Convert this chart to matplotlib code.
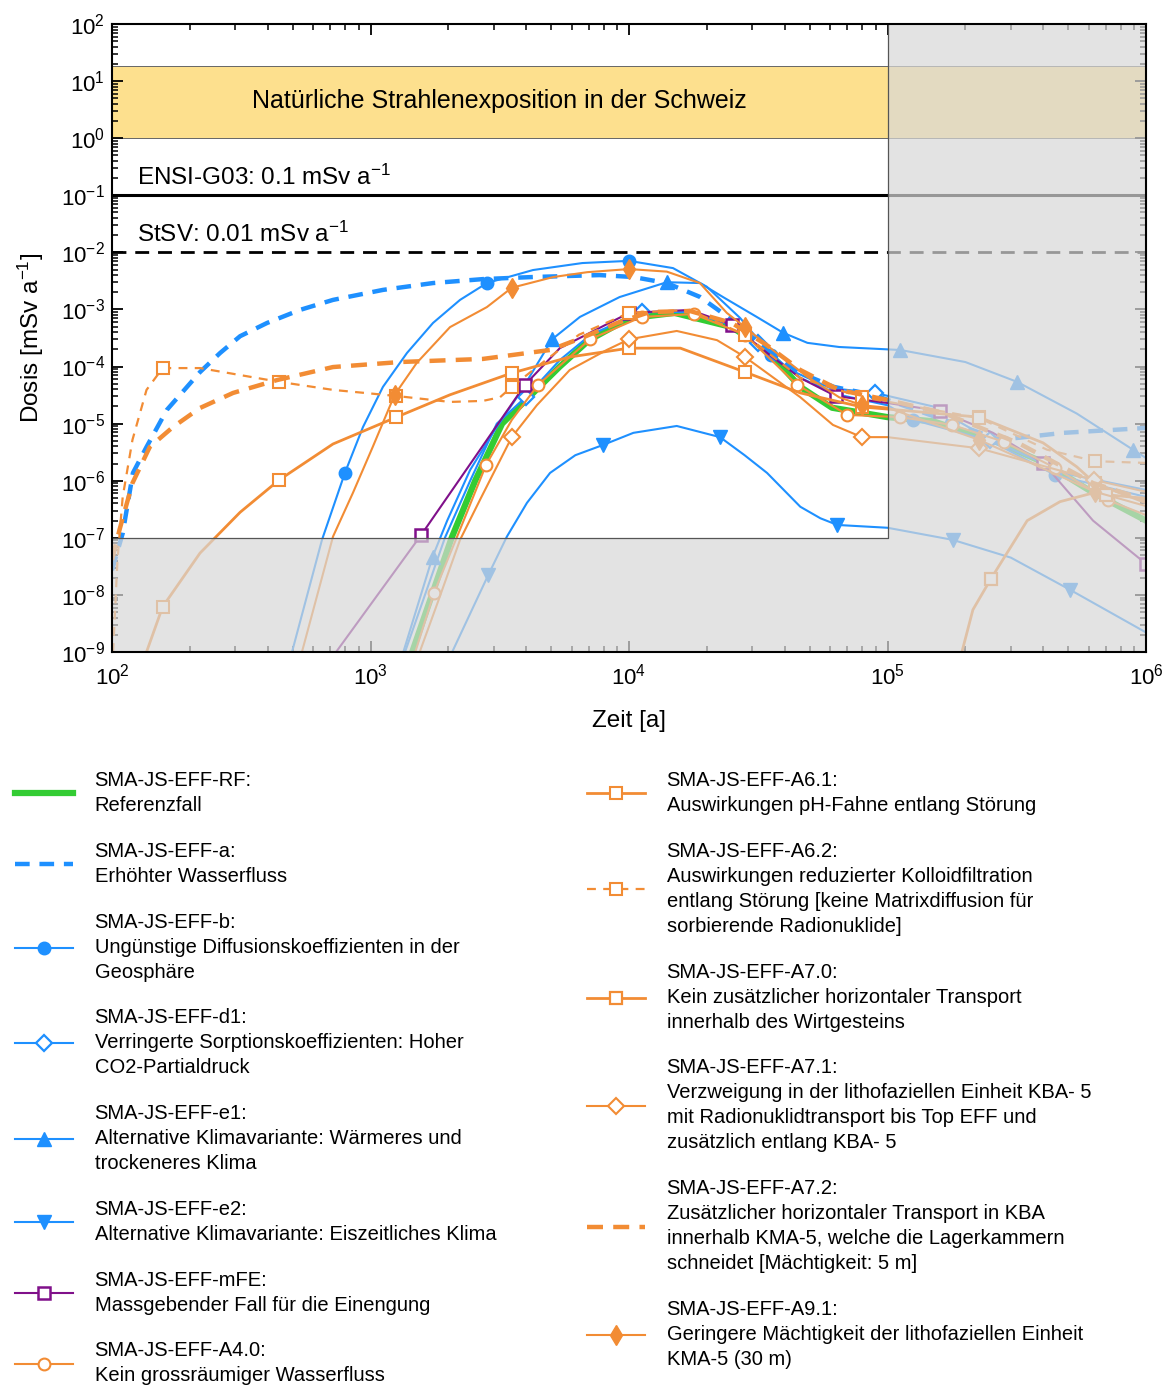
import matplotlib
matplotlib.use('Agg')
import matplotlib.pyplot as plt
from matplotlib.patches import Rectangle
from matplotlib.ticker import LogLocator, NullFormatter
import numpy as np

plt.rcParams['font.family'] = ['Liberation Sans', 'DejaVu Sans']
plt.rcParams['mathtext.fontset'] = 'custom'
plt.rcParams['mathtext.rm'] = 'Liberation Sans'
plt.rcParams['mathtext.it'] = 'Liberation Sans:italic'
plt.rcParams['mathtext.default'] = 'regular'

BLUE = '#1e90ff'
ORANGE = '#f28c34'
PURPLE = '#80108a'
GREEN = '#33cc33'

# ---- data (time [a], dose [mSv/a]) ----
t_rf = [1.45e3, 2.06e3, 2.54e3, 3.23e3, 5.4e3, 7.0e3, 1.0e4, 1.5e4, 2.5e4, 3.4e4, 4.6e4, 6.1e4,
        1.0e5, 1.5e5, 2.7e5, 4.1e5, 6.2e5, 1.0e6]
d_rf = [1e-9, 1e-7, 1e-6, 1e-5, 1.0e-4, 2.9e-4, 7.0e-4, 8.7e-4, 4.9e-4, 1.95e-4, 4.4e-5, 1.9e-5,
        1.3e-5, 1.1e-5, 4.6e-6, 2.0e-6, 6.3e-7, 2.0e-7]

t_a = [100, 110, 120.5, 136, 163, 219, 262, 313, 398, 533, 716, 1117, 1745, 2.72e3, 4.25e3, 7.7e3,
       1.04e4, 1.4e4, 1.88e4, 2.5e4, 3.4e4, 4.6e4, 6.2e4, 8.8e4, 1.46e5, 2.72e5, 4.8e5, 1.0e6]
d_a = [2.7e-8, 1.2e-7, 1.37e-6, 3.9e-6, 1.74e-5, 8.0e-5, 1.73e-4, 3.4e-4, 5.8e-4, 9.8e-4, 1.47e-3,
       2.2e-3, 2.9e-3, 3.4e-3, 3.7e-3, 4.0e-3, 3.7e-3, 2.9e-3, 1.66e-3, 6.6e-4, 1.95e-4, 7.7e-5,
       4.4e-5, 3.2e-5, 1.42e-5, 5.2e-6, 6.9e-6, 8.4e-6]

t_b = [497, 649, 796, 935, 1117, 1384, 1745, 2.22e3, 2.82e3, 4.25e3, 6.6e3, 1.0e4, 1.48e4, 2.0e4,
       2.69e4, 3.54e4, 4.6e4, 6.5e4, 1.0e5, 1.26e5, 2.5e5, 4.45e5, 1.0e6]
d_b = [1e-9, 9.2e-8, 1.37e-6, 8.7e-6, 4.4e-5, 1.73e-4, 5.8e-4, 1.47e-3, 2.9e-3, 4.9e-3, 6.5e-3,
       7.1e-3, 5.3e-3, 2.5e-3, 7.1e-4, 1.6e-4, 6.3e-5, 3.2e-5, 2.1e-5, 1.16e-5, 5.0e-6, 1.26e-6, 5.2e-7]
m_b = [2, 8, 11, 15, 19, 21]

t_d1 = [1.36e3, 1.94e3, 2.43e3, 3.08e3, 4.0e3, 5.4e3, 7.1e3, 1.12e4, 1.72e4, 2.46e4, 3.16e4, 4.2e4,
        6.0e4, 8.95e4, 1.5e5, 2.5e5, 5.0e5, 1.0e6]
d_d1 = [1e-9, 1e-7, 1e-6, 1e-5, 2.95e-5, 1.3e-4, 3.6e-4, 9.0e-4, 9.0e-4, 5.4e-4, 2.6e-4, 8.7e-5,
        4.2e-5, 3.45e-5, 2.0e-5, 5.2e-6, 1.3e-6, 6.9e-7]
m_d1 = [4, 7, 10, 13, 15]

t_e1 = [1.34e3, 1.74e3, 1.98e3, 2.43e3, 3.03e3, 3.79e3, 5.04e3, 6.46e3, 9.2e3, 1.4e4, 1.88e4, 2.31e4,
        3.12e4, 3.95e4, 4.9e4, 6.5e4, 1.12e5, 2.0e5, 3.17e5, 5.4e5, 8.9e5, 1.0e6]
d_e1 = [1e-9, 4.7e-8, 2.0e-7, 1.55e-6, 7.8e-6, 3.5e-5, 3.0e-4, 7.4e-4, 1.65e-3, 3.0e-3, 2.9e-3,
        1.65e-3, 7.4e-4, 3.9e-4, 2.6e-4, 2.2e-4, 1.95e-4, 1.2e-4, 5.4e-5, 1.5e-5, 3.5e-6, 2.5e-6]
m_e1 = [1, 6, 9, 13, 16, 18, 20]

t_e2 = [2.07e3, 2.85e3, 3.37e3, 4.03e3, 4.95e3, 6.2e3, 7.9e3, 1.04e4, 1.53e4, 2.25e4, 2.8e4, 3.42e4,
        4.6e4, 5.5e4, 6.4e4, 1.0e5, 1.79e5, 3.0e5, 5.1e5, 1.0e6]
d_e2 = [1e-9, 2.2e-8, 1.05e-7, 4.1e-7, 1.37e-6, 2.8e-6, 4.2e-6, 6.9e-6, 9.1e-6, 5.8e-6, 2.8e-6,
        1.37e-6, 3.5e-7, 2.2e-7, 1.68e-7, 1.5e-7, 9.2e-8, 4.5e-8, 1.22e-8, 2.2e-9]
m_e2 = [1, 6, 9, 14, 16, 18]

t_mfe = [736, 1.57e3, 3.96e3, 5.4e3, 1.0e4, 1.72e4, 2.5e4, 3.5e4, 4.6e4, 6.3e4, 1.0e5, 1.6e5, 2.56e5,
         4.0e5, 6.24e5, 1.0e6]
d_mfe = [1e-9, 1.12e-7, 4.8e-5, 2.1e-4, 8.7e-4, 9.8e-4, 5.4e-4, 1.6e-4, 6.3e-5, 3.05e-5, 2.3e-5,
         1.67e-5, 6.9e-6, 2.05e-6, 2.0e-7, 3.5e-8]
m_mfe = [1, 2, 4, 6, 9, 11, 13, 15]

t_a40 = [1.49e3, 1.76e3, 2.22e3, 2.8e3, 3.52e3, 4.45e3, 7.06e3, 1.12e4, 1.78e4, 2.81e4, 4.47e4,
         7.0e4, 1.12e5, 1.78e5, 2.82e5, 4.45e5, 7.1e5, 1.0e6]
d_a40 = [1e-9, 1.08e-8, 1.4e-7, 1.9e-6, 1.16e-5, 4.8e-5, 3.0e-4, 7.4e-4, 8.3e-4, 3.6e-4, 4.8e-5,
         1.42e-5, 1.3e-5, 9.5e-6, 4.8e-6, 1.68e-6, 4.6e-7, 2.5e-7]
m_a40 = [1, 3, 5, 6, 7, 8, 9, 10, 11, 12, 13, 14, 15, 16]

t_a61 = [136, 157, 219, 313, 443, 716, 1.26e3, 2.03e3, 3.52e3, 5.9e3, 1.0e4, 1.58e4, 2.81e4, 4.6e4,
         7.96e4, 1.0e5, 2.26e5, 4.0e5, 5.4e5, 6.35e5, 1.0e6]
d_a61 = [1e-9, 6.2e-9, 5.4e-8, 2.8e-7, 1.03e-6, 4.4e-6, 1.3e-5, 3.2e-5, 7.7e-5, 1.47e-4, 2.1e-4,
         2.1e-4, 8.0e-5, 3.45e-5, 1.96e-5, 1.8e-5, 1.3e-5, 4.6e-6, 1.75e-6, 9e-7, 4.1e-7]
m_a61 = [1, 4, 6, 8, 10, 12, 14, 16, 19]

t_a62 = [101, 105, 110, 120, 136, 157, 219, 443, 716, 1.26e3, 2.03e3, 2.72e3, 3.17e3, 3.52e3, 4.5e3,
         6.4e3, 1.0e4, 1.72e4, 2.81e4, 4.6e4, 7.96e4, 2.26e5, 4.14e5, 6.35e5, 1.0e6]
d_a62 = [1e-9, 4.1e-8, 5.2e-7, 5.2e-6, 3.9e-5, 9.4e-5, 9.4e-5, 5.4e-5, 3.9e-5, 3.05e-5, 2.4e-5,
         2.5e-5, 2.9e-5, 4.4e-5, 1.06e-4, 3.6e-4, 8.7e-4, 9.8e-4, 3.6e-4, 6.3e-5, 2.9e-5, 1.26e-5,
         3.5e-6, 2.2e-6, 2.05e-6]
m_a62 = [5, 7, 9, 13, 16, 18, 20, 21, 23]

t_a70 = [1.94e5, 2.14e5, 2.51e5, 3.47e5, 4.65e5, 6.24e5, 7.0e5, 1.0e6]
d_a70 = [1e-9, 5.5e-9, 1.9e-8, 2.0e-7, 4.3e-7, 6.1e-7, 5.7e-7, 4.9e-7]
m_a70 = [2, 6]

t_a71 = [1.55e3, 1.81e3, 2.22e3, 2.65e3, 3.52e3, 4.4e3, 5.9e3, 8.2e3, 1.0e4, 1.53e4, 2.19e4, 2.81e4,
         3.42e4, 4.6e4, 6.15e4, 7.96e4, 1.0e5, 2.26e5, 6.3e5, 1.0e6]
d_a71 = [1e-9, 6.9e-9, 9.2e-8, 4.6e-7, 5.8e-6, 2.1e-5, 8.7e-5, 1.95e-4, 3.0e-4, 4.2e-4, 2.9e-4,
         1.47e-4, 7.7e-5, 2.9e-5, 9.5e-6, 5.8e-6, 5.8e-6, 3.7e-6, 1.03e-6, 6.4e-7]
m_a71 = [4, 8, 11, 15, 17, 18]

t_a72 = [100, 107, 120, 140, 172, 219, 294, 435, 716, 1.3e3, 2.72e3, 4.95e3, 6.6e3, 9.0e3, 1.2e4,
         1.72e4, 2.5e4, 3.4e4, 4.6e4, 6.5e4, 1.0e5, 1.64e5, 3.2e5, 6.24e5, 1.0e6]
d_a72 = [4.1e-8, 1.4e-7, 9.1e-7, 3.9e-6, 8.7e-6, 1.88e-5, 3.45e-5, 5.8e-5, 9.8e-5, 1.2e-4, 1.36e-4,
         1.95e-4, 3.2e-4, 5.8e-4, 9.0e-4, 9.4e-4, 5.8e-4, 2.4e-4, 8.7e-5, 3.9e-5, 2.6e-5, 1.55e-5,
         4.6e-6, 9.1e-7, 4.6e-7]

t_a91 = [543, 716, 856, 1.02e3, 1.24e3, 1.51e3, 2.03e3, 2.82e3, 3.52e3, 5.1e3, 6.9e3, 1.0e4, 1.4e4,
         1.88e4, 2.39e4, 2.81e4, 3.6e4, 4.9e4, 6.5e4, 7.96e4, 1.0e5, 2.26e5, 6.35e5, 1.0e6]
d_a91 = [1e-9, 1.05e-7, 6.2e-7, 3.9e-6, 3.2e-5, 1.16e-4, 4.9e-4, 1.1e-3, 2.4e-3, 3.7e-3, 4.5e-3,
         5.1e-3, 4.6e-3, 2.9e-3, 8.7e-4, 4.9e-4, 1.95e-4, 6.6e-5, 2.9e-5, 2.1e-5, 1.9e-5, 5.2e-6,
         6.4e-7, 3.6e-7]
m_a91 = [4, 8, 11, 15, 19, 21, 22]

labels_left = [
    'SMA-JS-EFF-RF:\nReferenzfall',
    'SMA-JS-EFF-a:\nErhöhter Wasserfluss',
    'SMA-JS-EFF-b:\nUngünstige Diffusionskoeffizienten in der\nGeosphäre',
    'SMA-JS-EFF-d1:\nVerringerte Sorptionskoeffizienten: Hoher\nCO2-Partialdruck',
    'SMA-JS-EFF-e1:\nAlternative Klimavariante: Wärmeres und\ntrockeneres Klima',
    'SMA-JS-EFF-e2:\nAlternative Klimavariante: Eiszeitliches Klima',
    'SMA-JS-EFF-mFE:\nMassgebender Fall für die Einengung',
    'SMA-JS-EFF-A4.0:\nKein grossräumiger Wasserfluss',
]
labels_right = [
    'SMA-JS-EFF-A6.1:\nAuswirkungen pH-Fahne entlang Störung',
    'SMA-JS-EFF-A6.2:\nAuswirkungen reduzierter Kolloidfiltration\nentlang Störung [keine Matrixdiffusion für\nsorbierende Radionuklide]',
    'SMA-JS-EFF-A7.0:\nKein zusätzlicher horizontaler Transport\ninnerhalb des Wirtgesteins',
    'SMA-JS-EFF-A7.1:\nVerzweigung in der lithofaziellen Einheit KBA- 5\nmit Radionuklidtransport bis Top EFF und\nzusätzlich entlang KBA- 5',
    'SMA-JS-EFF-A7.2:\nZusätzlicher horizontaler Transport in KBA\ninnerhalb KMA-5, welche die Lagerkammern\nschneidet [Mächtigkeit: 5 m]',
    'SMA-JS-EFF-A9.1:\nGeringere Mächtigkeit der lithofaziellen Einheit\nKMA-5 (30 m)',
]

fig = plt.figure(figsize=(11.73, 13.85), dpi=100)
ax = fig.add_axes([112/1173, 1-652/1385, (1146-112)/1173, (652-24)/1385])
ax.set_xscale('log')
ax.set_yscale('log')
ax.set_xlim(1e2, 1e6)
ax.set_ylim(1e-9, 1e2)

# reference levels
ax.axhspan(1, 18.4, fc='#fde08e', ec='#666666', lw=0.7, zorder=1)
ax.axhline(0.1, color='k', lw=2.2, zorder=1.5)
ax.axhline(0.01, color='k', lw=2.0, ls=(0, (5, 3.2)), zorder=1.5)
ax.text(3.14e3, 4.4, 'Natürliche Strahlenexposition in der Schweiz', ha='center', va='center', fontsize=18)
ax.text(125, 0.21, 'ENSI-G03: 0.1 mSv a$^{-1}$', ha='left', va='center', fontsize=17.5)
ax.text(125, 0.021, 'StSV: 0.01 mSv a$^{-1}$', ha='left', va='center', fontsize=17.5)

sty = dict(lw=1.5, ms=8.5, mew=1.5, zorder=2)
h = []
h.append(ax.plot(t_rf, d_rf, color=GREEN, lw=4.5, zorder=2)[0])
h.append(ax.plot(t_a, d_a, color=BLUE, lw=3.2, ls=(0, (3.3, 2.2)), zorder=2)[0])
h.append(ax.plot(t_b, d_b, color=BLUE, marker='o', markevery=m_b, mfc=BLUE, mec=BLUE, **sty)[0])
h.append(ax.plot(t_d1, d_d1, color=BLUE, marker='D', markevery=m_d1, mfc='white', mec=BLUE,
                 lw=1.5, ms=8, mew=1.6, zorder=2)[0])
h.append(ax.plot(t_e1, d_e1, color=BLUE, marker='^', markevery=m_e1, mfc=BLUE, mec=BLUE,
                 lw=1.5, ms=9.5, zorder=2)[0])
h.append(ax.plot(t_e2, d_e2, color=BLUE, marker='v', markevery=m_e2, mfc=BLUE, mec=BLUE,
                 lw=1.5, ms=9.5, zorder=2)[0])
h.append(ax.plot(t_mfe, d_mfe, color=PURPLE, marker='s', markevery=m_mfe, mfc='white', mec=PURPLE,
                 lw=1.5, ms=8.5, mew=1.8, zorder=2)[0])
h.append(ax.plot(t_a40, d_a40, color=ORANGE, marker='o', markevery=m_a40, mfc='white', mec=ORANGE, **sty)[0])
h.append(ax.plot(t_a61, d_a61, color=ORANGE, marker='s', markevery=m_a61, mfc='white', mec=ORANGE,
                 lw=2.0, ms=8.5, mew=1.5, zorder=2)[0])
h.append(ax.plot(t_a62, d_a62, color=ORANGE, marker='s', markevery=m_a62, mfc='white', mec=ORANGE,
                 lw=1.6, ls=(0, (4, 3.3)), ms=8.5, mew=1.5, zorder=2)[0])
h.append(ax.plot(t_a70, d_a70, color=ORANGE, marker='s', markevery=m_a70, mfc='white', mec=ORANGE,
                 lw=2.0, ms=9, mew=1.6, zorder=2)[0])
h.append(ax.plot(t_a71, d_a71, color=ORANGE, marker='D', markevery=m_a71, mfc='white', mec=ORANGE,
                 lw=1.5, ms=8, mew=1.5, zorder=2)[0])
h.append(ax.plot(t_a72, d_a72, color=ORANGE, lw=3.2, ls=(0, (3.6, 2.3)), zorder=2)[0])
h.append(ax.plot(t_a91, d_a91, color=ORANGE, marker='d', markevery=m_a91, mfc=ORANGE, mec=ORANGE,
                 lw=1.5, ms=10, mew=1.0, zorder=2)[0])

# grey overlay for the regions outside the evaluation window
ax.add_patch(Rectangle((1e5, 1e-9), 9e5, 1e2, fc='#d8d8d8', ec='none', alpha=0.7, zorder=2.2))
ax.add_patch(Rectangle((1e2, 1e-9), 1e5 - 1e2, 1e-7 - 1e-9, fc='#d8d8d8', ec='none', alpha=0.7, zorder=2.2))
ax.plot([1e2, 1e5, 1e5], [1e-7, 1e-7, 1e2], color='#555555', lw=0.9, zorder=2.3)

# axes styling
for s in ax.spines.values():
    s.set_linewidth(1.5)
ax.xaxis.set_major_locator(LogLocator(base=10, numticks=20))
ax.yaxis.set_major_locator(LogLocator(base=10, numticks=20))
ax.xaxis.set_minor_locator(LogLocator(base=10, subs=np.arange(2, 10), numticks=100))
ax.yaxis.set_minor_locator(LogLocator(base=10, subs=np.arange(2, 10), numticks=100))
ax.xaxis.set_minor_formatter(NullFormatter())
ax.yaxis.set_minor_formatter(NullFormatter())
ax.tick_params(which='both', direction='in', top=True, right=True, labelsize=16)
ax.tick_params(which='major', length=8, width=1.3)
ax.tick_params(which='minor', length=4.5, width=1.1)
ax.tick_params(axis='x', pad=8)
ax.tick_params(axis='y', pad=5)
ax.set_xlabel('Zeit [a]', fontsize=17.5, labelpad=15)
ax.set_ylabel('Dosis [mSv a$^{-1}$]', fontsize=17.5, labelpad=11)

# legends
common = dict(frameon=False, fontsize=14.5, handlelength=2.9, handletextpad=1.05,
              labelspacing=1.33, borderpad=0, borderaxespad=0, loc='upper left')
leg1 = fig.legend(h[:8], labels_left, bbox_to_anchor=(15/1173, 1-771/1385), **common)
leg2 = fig.legend(h[8:], labels_right, bbox_to_anchor=(587/1173, 1-771/1385), **common)
for lg in (leg1, leg2):
    for t in lg.get_texts():
        t.set_linespacing(1.4)

fig.savefig('out.png', dpi=100)
